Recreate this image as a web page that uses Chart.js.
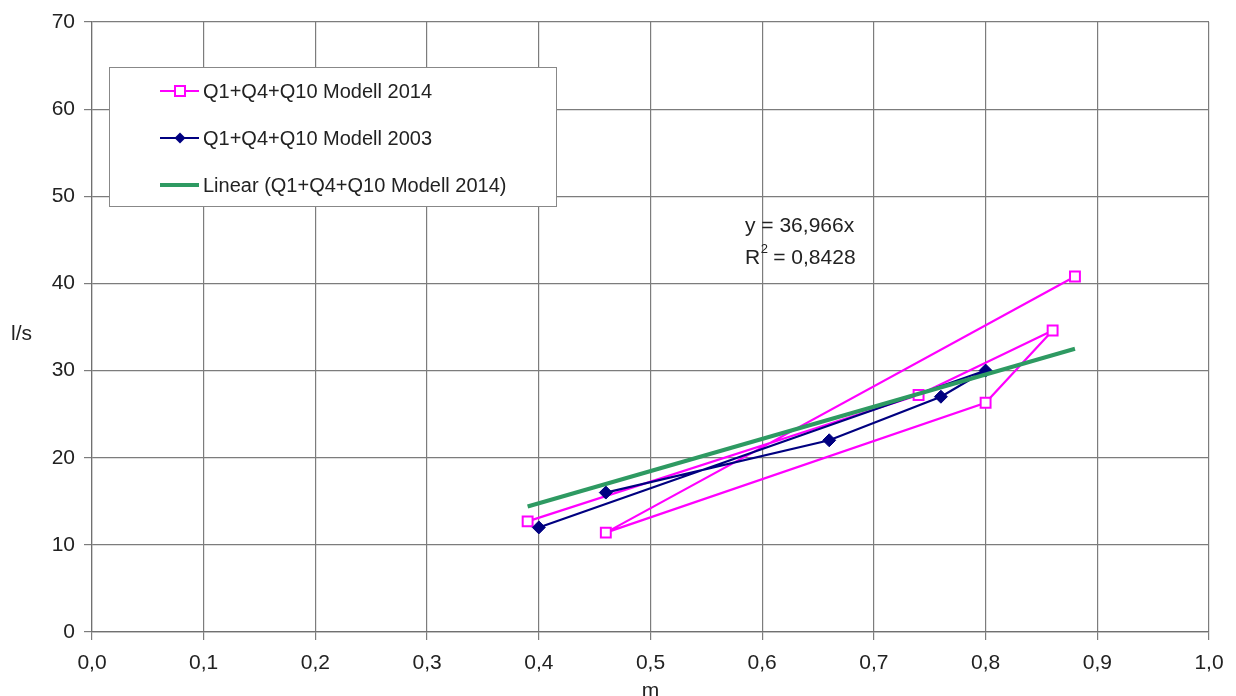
<!DOCTYPE html>
<html>
<head>
<meta charset="utf-8">
<script src="https://cdn.jsdelivr.net/npm/chart.js@4"></script>
<style>
  html, body { margin: 0; padding: 0; background: #fff; }
  #wrap { width: 1236px; height: 696px; }
</style>
</head>
<body>
<div id="wrap"><canvas id="mChart" width="1236" height="696"></canvas></div>
<script>
// values
const m2014 = [0.39, 0.74, 0.86, 0.80, 0.46, 0.88];
const q2014 = [12.7, 27.2, 34.6, 26.3, 11.4, 40.8];
const m2003 = [0.40, 0.80, 0.76, 0.66, 0.46];
const q2003 = [12.0, 30.0, 27.0, 22.0, 16.0];
const trendM = [0.39, 0.88];
const trendQ = [14.4, 32.5];
const labels = ['Q1+Q4+Q10 Modell 2014', 'Q1+Q4+Q10 Modell 2003', 'Linear (Q1+Q4+Q10 Modell 2014)'];
const equation = ['y = 36,966x', 'R', '2', ' = 0,8428'];

const FONT = 'Arial, "Liberation Sans", sans-serif';
const pink = '#ff00ff';
const navy = '#000080';
const green = '#2e9a62';

const toPoints = (xs, ys) => xs.map((x, i) => ({ x: x, y: ys[i] }));

const extras = {
  id: 'extras',
  afterDraw(chart) {
    const ctx = chart.ctx;
    ctx.save();

    // y axis title, written upright
    ctx.fillStyle = '#222';
    ctx.font = '21px ' + FONT;
    ctx.textAlign = 'left';
    ctx.textBaseline = 'middle';
    ctx.fillText('l/s', 11, 334);

    // legend box
    ctx.fillStyle = '#fff';
    ctx.fillRect(109.5, 67.5, 447, 139);
    ctx.strokeStyle = '#888';
    ctx.lineWidth = 1;
    ctx.strokeRect(109.5, 67.5, 447, 139);

    const rows = [91, 138, 185];
    chart.data.datasets.forEach((ds, i) => {
      const y = rows[i];
      ctx.strokeStyle = ds.borderColor;
      ctx.lineWidth = ds.borderWidth;
      ctx.beginPath();
      ctx.moveTo(160, y);
      ctx.lineTo(199, y);
      ctx.stroke();
      if (ds.pointRadius > 0) {
        ctx.lineWidth = ds.pointBorderWidth;
        ctx.strokeStyle = ds.pointBorderColor;
        ctx.fillStyle = ds.pointBackgroundColor;
        if (ds.pointStyle === 'rect') {
          ctx.fillRect(175, y - 5, 10, 10);
          ctx.strokeRect(175, y - 5, 10, 10);
        } else {
          ctx.beginPath();
          ctx.moveTo(180, y - 5.5);
          ctx.lineTo(185.5, y);
          ctx.lineTo(180, y + 5.5);
          ctx.lineTo(174.5, y);
          ctx.closePath();
          ctx.fill();
        }
      }
      ctx.fillStyle = '#222';
      ctx.font = '20px ' + FONT;
      ctx.textAlign = 'left';
      ctx.textBaseline = 'middle';
      ctx.fillText(ds.label, 203, y + 1);
    });

    // trendline equation
    ctx.fillStyle = '#222';
    ctx.font = '21px ' + FONT;
    ctx.textBaseline = 'middle';
    ctx.fillText(equation[0], 745, 226);
    ctx.fillText(equation[1], 745, 258);
    let rx = 745 + ctx.measureText(equation[1]).width;
    ctx.font = '13px ' + FONT;
    ctx.fillText(equation[2], rx + 0.5, 249);
    rx += ctx.measureText(equation[2]).width;
    ctx.font = '21px ' + FONT;
    ctx.fillText(equation[3], rx, 258);

    ctx.restore();
  }
};

const comma1 = (v) => Number(v).toFixed(1).replace('.', ',');

new Chart(document.getElementById('mChart').getContext('2d'), {
  type: 'scatter',
  data: {
    datasets: [
      {
        label: labels[0],
        data: toPoints(m2014, q2014),
        showLine: true,
        borderColor: pink,
        borderWidth: 2.2,
        pointStyle: 'rect',
        pointRadius: 7,
        pointBorderWidth: 2,
        pointBorderColor: pink,
        pointBackgroundColor: '#fff',
        order: 2,
      },
      {
        label: labels[1],
        data: toPoints(m2003, q2003),
        showLine: true,
        borderColor: navy,
        borderWidth: 2.2,
        pointStyle: 'rectRot',
        pointRadius: 6.5,
        pointBorderWidth: 1,
        pointBorderColor: navy,
        pointBackgroundColor: navy,
        order: 1,
      },
      {
        label: labels[2],
        data: toPoints(trendM, trendQ),
        showLine: true,
        borderColor: green,
        borderWidth: 4,
        pointRadius: 0,
        pointBorderWidth: 0,
        order: 0,
      },
    ],
  },
  options: {
    responsive: false,
    animation: false,
    layout: { padding: { top: 22, right: 27, left: 0, bottom: 0 } },
    plugins: {
      legend: { display: false },
      tooltip: { enabled: false },
    },
    scales: {
      x: {
        type: 'linear',
        min: 0,
        max: 1,
        afterFit: (scale) => { scale.height = 64; },
        ticks: {
          stepSize: 0.1,
          color: '#222',
          font: { family: FONT, size: 21 },
          padding: 11,
          maxRotation: 0,
          callback: comma1,
        },
        grid: { color: '#7c7c7c', lineWidth: 1.2, tickLength: 8 },
        border: { color: '#707070', width: 1.2 },
        title: {
          display: true,
          text: 'm',
          color: '#222',
          font: { family: FONT, size: 21 },
          padding: { top: 0, bottom: -8 },
        },
      },
      y: {
        min: 0,
        max: 70,
        afterFit: (scale) => { scale.width = 92; },
        ticks: {
          stepSize: 10,
          color: '#222',
          font: { family: FONT, size: 21 },
          padding: 9,
        },
        grid: { color: '#7c7c7c', lineWidth: 1.2, tickLength: 8 },
        border: { color: '#707070', width: 1.2 },
      },
    },
  },
  plugins: [extras],
});
</script>
</body>
</html>
